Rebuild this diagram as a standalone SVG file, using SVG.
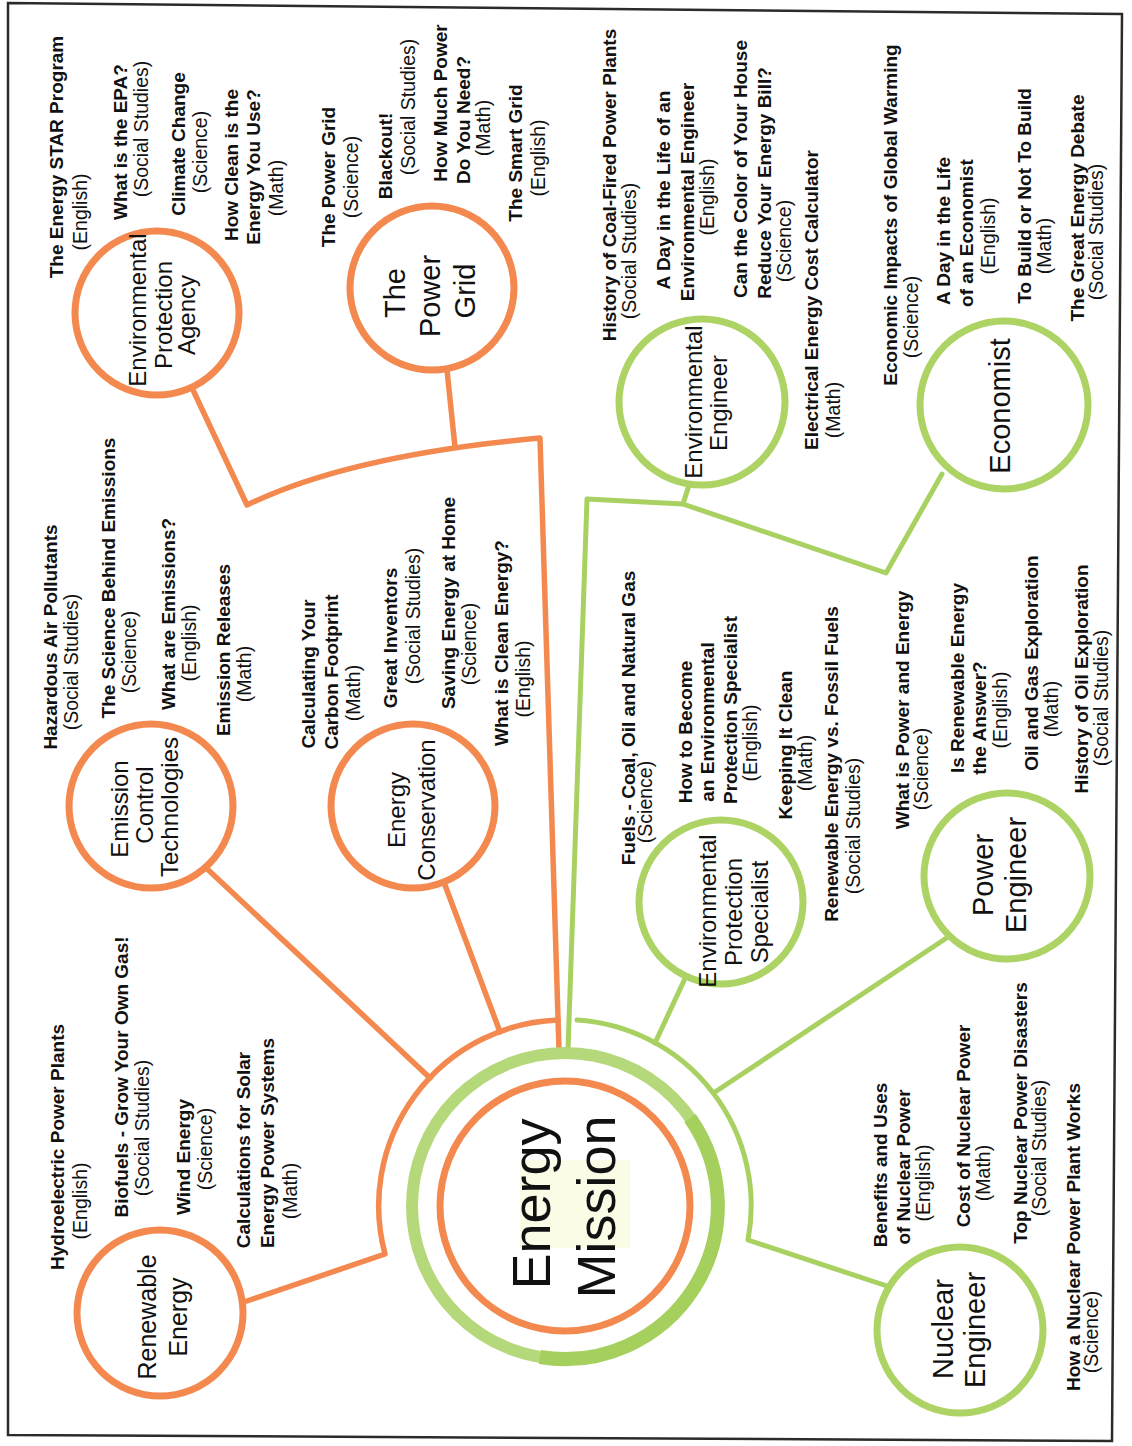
<svg xmlns="http://www.w3.org/2000/svg" width="1132" height="1446" viewBox="0 0 1132 1446">
<style>
text{font-family:"Liberation Sans",Arial,sans-serif;text-anchor:middle;fill:#111}
.b{font-size:19px;font-weight:bold}
.r{font-size:19.5px}
.n{font-size:24px}
.n2{font-size:29px}
.em{font-size:54px}
.on{fill:#fff;stroke:#f4894f;stroke-width:7}
.gn{fill:#fff;stroke:#acd363;stroke-width:7}
.oc{fill:none;stroke:#f4894f;stroke-width:5.5;stroke-linejoin:round;stroke-linecap:round}
.gc{fill:none;stroke:#a9d162;stroke-width:5;stroke-linejoin:round;stroke-linecap:round}
</style>
<rect width="1132" height="1446" fill="#fff"/>
<polygon points="8,3 1122,14 1112,1441 8,1435" fill="none" stroke="#2b2b2b" stroke-width="2.5"/>

<g id="connectors">
<path class="oc" d="M193,390 L247,505 Q350,455 540,438 L560,1082"/>
<path class="oc" d="M447,370 L455,447"/>
<path class="oc" d="M203,865 L430,1078"/>
<path class="oc" d="M445,885 L500,1032"/>
<path class="oc" d="M558,1020 A186,186 0 0 0 385,1254 L247,1301"/>
<path class="gc" d="M690,482 L683,504 L587,499 L568,1050"/>
<path class="gc" d="M942,474 L886,573 L683,504"/>
<path class="gc" d="M577,1020 A186,186 0 0 1 748,1240 L890,1287"/>
<path class="gc" d="M715,1092 L948,937"/>
<path class="gc" d="M688,972 L655,1043"/>
</g>

<g id="energy-mission">
<circle cx="565" cy="1206" r="153" fill="#fff" stroke="#b5d87a" stroke-width="12"/>
<path d="M690,1118 A153,153 0 0 1 540,1357" fill="none" stroke="#a5d05e" stroke-width="14"/>
<circle cx="565" cy="1206" r="125" fill="#fff" stroke="#f4894f" stroke-width="7"/>
<rect x="520" y="1160" width="110" height="88" fill="#f8fad6" opacity="0.6"/>
<text class="em" transform="translate(550 1204) rotate(-90)">Energy</text>
<text class="em" transform="translate(615 1207) rotate(-90)">Mission</text>
</g>

<g id="epa">
<circle class="on" cx="157" cy="313" r="82"/>
<text class="n" transform="translate(146 310) rotate(-90)">Environmental</text>
<text class="n" transform="translate(172 315) rotate(-90)">Protection</text>
<text class="n" transform="translate(195 315) rotate(-90)">Agency</text>
<text class="b" transform="translate(63 157) rotate(-90)">The Energy STAR Program</text>
<text class="r" transform="translate(87 212) rotate(-90)">(English)</text>
<text class="b" transform="translate(127 142) rotate(-90)">What is the EPA?</text>
<text class="r" transform="translate(148 129) rotate(-90)">(Social Studies)</text>
<text class="b" transform="translate(185 144) rotate(-90)">Climate Change</text>
<text class="r" transform="translate(207 152) rotate(-90)">(Science)</text>
<text class="b" transform="translate(238 165) rotate(-90)">How Clean is the</text>
<text class="b" transform="translate(260 167) rotate(-90)">Energy You Use?</text>
<text class="r" transform="translate(283 188) rotate(-90)">(Math)</text>
</g>

<g id="power-grid">
<circle class="on" cx="432" cy="288" r="82"/>
<text class="n2" transform="translate(405 293) rotate(-90)">The</text>
<text class="n2" transform="translate(440 296) rotate(-90)">Power</text>
<text class="n2" transform="translate(475 291) rotate(-90)">Grid</text>
<text class="b" transform="translate(335 177) rotate(-90)">The Power Grid</text>
<text class="r" transform="translate(358 177) rotate(-90)">(Science)</text>
<text class="b" transform="translate(392 156) rotate(-90)">Blackout!</text>
<text class="r" transform="translate(415 107) rotate(-90)">(Social Studies)</text>
<text class="b" transform="translate(447 103) rotate(-90)">How Much Power</text>
<text class="b" transform="translate(470 120) rotate(-90)">Do You Need?</text>
<text class="r" transform="translate(490 128) rotate(-90)">(Math)</text>
<text class="b" transform="translate(522 153) rotate(-90)">The Smart Grid</text>
<text class="r" transform="translate(545 158) rotate(-90)">(English)</text>
</g>

<g id="environmental-engineer">
<circle class="gn" cx="702" cy="402" r="83"/>
<text class="n" transform="translate(702 402) rotate(-90)">Environmental</text>
<text class="n" transform="translate(727 403) rotate(-90)">Engineer</text>
<text class="b" transform="translate(616 185) rotate(-90)">History of Coal-Fired Power Plants</text>
<text class="r" transform="translate(636 251) rotate(-90)">(Social Studies)</text>
<text class="b" transform="translate(670 190) rotate(-90)">A Day in the Life of an</text>
<text class="b" transform="translate(694 192) rotate(-90)">Environmental Engineer</text>
<text class="r" transform="translate(714 197) rotate(-90)">(English)</text>
<text class="b" transform="translate(747 169) rotate(-90)">Can the Color of Your House</text>
<text class="b" transform="translate(771 183) rotate(-90)">Reduce Your Energy Bill?</text>
<text class="r" transform="translate(791 241) rotate(-90)">(Science)</text>
<text class="b" transform="translate(818 300) rotate(-90)">Electrical Energy Cost Calculator</text>
<text class="r" transform="translate(840 410) rotate(-90)">(Math)</text>
</g>

<g id="economist">
<circle class="gn" cx="1004" cy="405" r="84"/>
<text class="n2" transform="translate(1010 406) rotate(-90)">Economist</text>
<text class="b" transform="translate(897 215) rotate(-90)">Economic Impacts of Global Warming</text>
<text class="r" transform="translate(918 317) rotate(-90)">(Science)</text>
<text class="b" transform="translate(950 231) rotate(-90)">A Day in the Life</text>
<text class="b" transform="translate(973 233) rotate(-90)">of an Economist</text>
<text class="r" transform="translate(995 236) rotate(-90)">(English)</text>
<text class="b" transform="translate(1031 196) rotate(-90)">To Build or Not To Build</text>
<text class="r" transform="translate(1051 246) rotate(-90)">(Math)</text>
<text class="b" transform="translate(1084 208) rotate(-90)">The Great Energy Debate</text>
<text class="r" transform="translate(1103 232) rotate(-90)">(Social Studies)</text>
</g>

<g id="emission-control">
<circle class="on" cx="151" cy="806" r="82"/>
<text class="n" transform="translate(128 809) rotate(-90)">Emission</text>
<text class="n" transform="translate(153 805) rotate(-90)">Control</text>
<text class="n" transform="translate(178 807) rotate(-90)">Technologies</text>
<text class="b" transform="translate(57 637) rotate(-90)">Hazardous Air Pollutants</text>
<text class="r" transform="translate(78 662) rotate(-90)">(Social Studies)</text>
<text class="b" transform="translate(115 578) rotate(-90)">The Science Behind Emissions</text>
<text class="r" transform="translate(136 652) rotate(-90)">(Science)</text>
<text class="b" transform="translate(175 614) rotate(-90)">What are Emissions?</text>
<text class="r" transform="translate(196 643) rotate(-90)">(English)</text>
<text class="b" transform="translate(230 650) rotate(-90)">Emission Releases</text>
<text class="r" transform="translate(251 674) rotate(-90)">(Math)</text>
</g>

<g id="energy-conservation">
<circle class="on" cx="413" cy="806" r="82"/>
<text class="n" transform="translate(405 810) rotate(-90)">Energy</text>
<text class="n" transform="translate(435 810) rotate(-90)">Conservation</text>
<text class="b" transform="translate(315 674) rotate(-90)">Calculating Your</text>
<text class="b" transform="translate(338 672) rotate(-90)">Carbon Footprint</text>
<text class="r" transform="translate(360 693) rotate(-90)">(Math)</text>
<text class="b" transform="translate(397 638) rotate(-90)">Great Inventors</text>
<text class="r" transform="translate(420 616) rotate(-90)">(Social Studies)</text>
<text class="b" transform="translate(455 603) rotate(-90)">Saving Energy at Home</text>
<text class="r" transform="translate(476 644) rotate(-90)">(Science)</text>
<text class="b" transform="translate(508 643) rotate(-90)">What is Clean Energy?</text>
<text class="r" transform="translate(530 679) rotate(-90)">(English)</text>
</g>

<g id="environmental-protection-specialist">
<circle class="gn" cx="721" cy="902" r="82"/>
<text class="n" transform="translate(716 911) rotate(-90)">Environmental</text>
<text class="n" transform="translate(742 912) rotate(-90)">Protection</text>
<text class="n" transform="translate(768 912) rotate(-90)">Specialist</text>
<text class="b" transform="translate(635 718) rotate(-90)">Fuels - Coal, Oil and Natural Gas</text>
<text class="r" transform="translate(652 802) rotate(-90)">(Science)</text>
<text class="b" transform="translate(692 732) rotate(-90)">How to Become</text>
<text class="b" transform="translate(714 722) rotate(-90)">an Environmental</text>
<text class="b" transform="translate(737 710) rotate(-90)">Protection Specialist</text>
<text class="r" transform="translate(757 743) rotate(-90)">(English)</text>
<text class="b" transform="translate(792 745) rotate(-90)">Keeping It Clean</text>
<text class="r" transform="translate(812 763) rotate(-90)">(Math)</text>
<text class="b" transform="translate(838 764) rotate(-90)">Renewable Energy vs. Fossil Fuels</text>
<text class="r" transform="translate(860 826) rotate(-90)">(Social Studies)</text>
</g>

<g id="power-engineer">
<circle class="gn" cx="1007" cy="876" r="83"/>
<text class="n2" transform="translate(993 875) rotate(-90)">Power</text>
<text class="n2" transform="translate(1026 875) rotate(-90)">Engineer</text>
<text class="b" transform="translate(909 710) rotate(-90)">What is Power and Energy</text>
<text class="r" transform="translate(928 769) rotate(-90)">(Science)</text>
<text class="b" transform="translate(964 678) rotate(-90)">Is Renewable Energy</text>
<text class="b" transform="translate(986 718) rotate(-90)">the Answer?</text>
<text class="r" transform="translate(1007 710) rotate(-90)">(English)</text>
<text class="b" transform="translate(1038 663) rotate(-90)">Oil and Gas Exploration</text>
<text class="r" transform="translate(1058 709) rotate(-90)">(Math)</text>
<text class="b" transform="translate(1088 679) rotate(-90)">History of Oil Exploration</text>
<text class="r" transform="translate(1108 698) rotate(-90)">(Social Studies)</text>
</g>

<g id="renewable-energy">
<circle class="on" cx="160" cy="1313" r="83"/>
<text class="n" transform="translate(156 1317) rotate(-90)" style="font-size:25px">Renewable</text>
<text class="n" transform="translate(187 1317) rotate(-90)" style="font-size:25px">Energy</text>
<text class="b" transform="translate(64 1147) rotate(-90)">Hydroelectric Power Plants</text>
<text class="r" transform="translate(87 1201) rotate(-90)">(English)</text>
<text class="b" transform="translate(128 1077) rotate(-90)">Biofuels - Grow Your Own Gas!</text>
<text class="r" transform="translate(149 1128) rotate(-90)">(Social Studies)</text>
<text class="b" transform="translate(190 1157) rotate(-90)">Wind Energy</text>
<text class="r" transform="translate(212 1149) rotate(-90)">(Science)</text>
<text class="b" transform="translate(250 1150) rotate(-90)">Calculations for Solar</text>
<text class="b" transform="translate(274 1143) rotate(-90)">Energy Power Systems</text>
<text class="r" transform="translate(297 1191) rotate(-90)">(Math)</text>
</g>

<g id="nuclear-engineer">
<circle class="gn" cx="960" cy="1330" r="83"/>
<text class="n2" transform="translate(953 1329) rotate(-90)">Nuclear</text>
<text class="n2" transform="translate(985 1330) rotate(-90)">Engineer</text>
<text class="b" transform="translate(887 1165) rotate(-90)">Benefits and Uses</text>
<text class="b" transform="translate(910 1167) rotate(-90)">of Nuclear Power</text>
<text class="r" transform="translate(930 1183) rotate(-90)">(English)</text>
<text class="b" transform="translate(970 1126) rotate(-90)">Cost of Nuclear Power</text>
<text class="r" transform="translate(990 1173) rotate(-90)">(Math)</text>
<text class="b" transform="translate(1027 1113) rotate(-90)">Top Nuclear Power Disasters</text>
<text class="r" transform="translate(1046 1148) rotate(-90)">(Social Studies)</text>
<text class="b" transform="translate(1080 1237) rotate(-90)">How a Nuclear Power Plant Works</text>
<text class="r" transform="translate(1098 1332) rotate(-90)">(Science)</text>
</g>
</svg>
